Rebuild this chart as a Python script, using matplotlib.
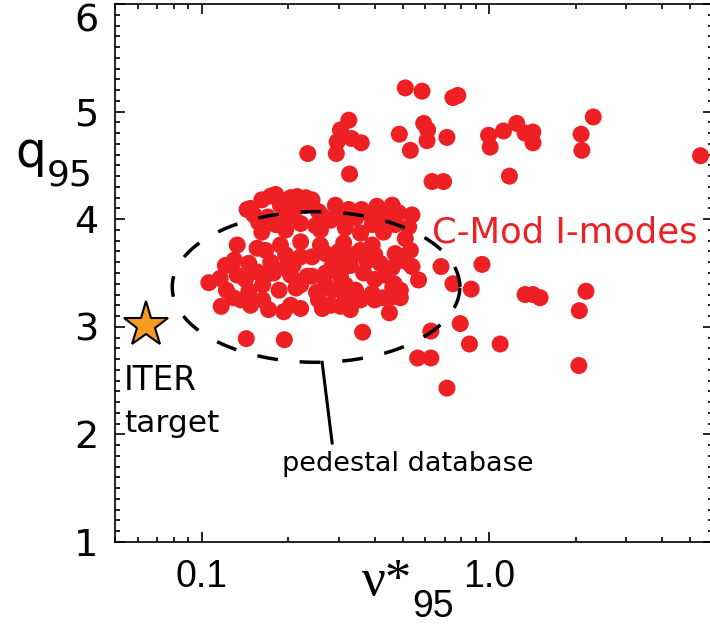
import numpy as np
import matplotlib
matplotlib.use('Agg')
import matplotlib.pyplot as plt
from matplotlib.ticker import FixedLocator, FixedFormatter, LogLocator, NullFormatter, MultipleLocator

# ---- data: C-Mod I-mode points (collisionality nu*_95, q95) ----
nu_star = [0.234, 0.294, 0.296, 0.304, 0.325, 0.332, 0.359, 0.327, 0.511, 0.584,
           0.748, 0.778, 0.487, 0.532, 0.592, 0.611, 0.608, 0.713, 0.633, 0.694,
           0.995, 1.008, 1.121, 1.247, 1.333, 1.418, 1.42, 1.176, 2.087, 2.10,
           2.30, 5.43, 0.539, 0.511, 0.504, 0.539, 0.68, 0.944, 0.748, 0.866,
           0.491, 0.491, 1.333, 1.42, 1.503, 2.17, 2.058, 0.793, 0.627, 0.854,
           1.092, 0.564, 0.627, 2.05, 0.713, 0.117, 0.129, 0.146, 0.171, 0.193,
           0.221, 0.263, 0.304, 0.329, 0.45, 0.143, 0.194, 0.363, 0.462, 0.462,
           0.106, 0.116, 0.133, 0.156, 0.178, 0.204, 0.233, 0.130, 0.133, 0.156,
           0.167, 0.196, 0.221, 0.146, 0.242, 0.270, 0.300, 0.338, 0.376, 0.418,
           0.471, 0.511, 0.242, 0.270, 0.304, 0.366, 0.400, 0.467, 0.148, 0.162,
           0.181, 0.215, 0.230, 0.152, 0.170, 0.162, 0.198, 0.221, 0.230, 0.255,
           0.281, 0.343, 0.357, 0.407, 0.435, 0.429, 0.484, 0.525, 0.144, 0.188,
           0.209, 0.263, 0.304, 0.249, 0.181, 0.316, 0.386, 0.188, 0.221, 0.259,
           0.312, 0.392, 0.174, 0.208, 0.285, 0.329, 0.46, 0.163, 0.186, 0.213,
           0.251, 0.285, 0.343, 0.392, 0.429, 0.163, 0.255, 0.316, 0.122, 0.137,
           0.158, 0.174, 0.204, 0.242, 0.292, 0.325, 0.360, 0.460, 0.471, 0.392,
           0.196, 0.259, 0.121, 0.142, 0.167, 0.196, 0.221, 0.270, 0.316, 0.357,
           0.400, 0.435, 0.357, 0.281, 0.204, 0.148, 0.532, 0.568, 0.400, 0.316]
q95 = [4.61, 4.61, 4.72, 4.83, 4.92, 4.75, 4.71, 4.42, 5.22, 5.19,
       5.13, 5.15, 4.79, 4.64, 4.89, 4.83, 4.73, 4.76, 4.35, 4.35,
       4.78, 4.67, 4.82, 4.89, 4.80, 4.81, 4.71, 4.40, 4.79, 4.64,
       4.95, 4.59, 4.04, 3.82, 3.62, 3.56, 3.56, 3.58, 3.40, 3.35,
       3.34, 3.27, 3.30, 3.30, 3.27, 3.33, 3.15, 3.03, 2.96, 2.84,
       2.84, 2.71, 2.71, 2.64, 2.43, 3.19, 3.27, 3.33, 3.16, 3.14,
       3.17, 3.17, 3.19, 3.16, 3.13, 2.89, 2.88, 2.95, 3.28, 3.37,
       3.41, 3.45, 3.48, 3.51, 3.50, 3.48, 3.47, 3.62, 3.76, 3.73,
       3.71, 3.67, 3.65, 3.59, 3.65, 3.68, 3.70, 3.67, 3.61, 3.59,
       3.68, 3.61, 3.47, 3.50, 3.47, 3.50, 3.44, 3.40, 4.10, 4.18,
       4.23, 4.21, 4.13, 4.04, 4.02, 3.88, 4.02, 3.96, 4.20, 4.07,
       3.99, 4.01, 3.87, 4.12, 4.01, 3.88, 4.06, 3.93, 4.09, 4.13,
       4.07, 4.03, 4.05, 3.94, 3.95, 3.92, 4.04, 3.76, 3.79, 3.76,
       3.78, 3.76, 3.60, 3.57, 3.57, 3.57, 3.55, 3.39, 3.34, 3.36,
       3.32, 3.34, 3.34, 3.31, 3.27, 3.25, 3.25, 3.27, 3.34, 3.25,
       3.97, 4.215, 4.20, 4.18, 4.13, 4.09, 4.09, 4.13, 3.95, 3.95,
       3.90, 3.90, 3.57, 3.44, 3.48, 3.55, 3.39, 3.39, 3.60, 3.71,
       3.67, 3.48, 3.25, 3.20, 3.20, 3.20, 3.71, 3.435, 3.25, 3.39]

# ITER target
iter_nu = [0.064]
iter_q = [3.02]

# pedestal database ellipse (log-x centre, half-width in decades)
ell_nu_center = 0.25
ell_q_center = 3.37
ell_half_decades = 0.50
ell_half_q = 0.70

# pointer line from ellipse to label
pointer_nu = [0.2625, 0.2844]
pointer_q = [2.67, 1.92]

xticks = [0.1, 1.0]
xticklabels = ['0.1', '1.0']
yticks = [1, 2, 3, 4, 5, 6]
yticklabels = ['1', '2', '3', '4', '5', '6']

red = '#EE2024'
orange = '#F59C1F'

W, H = 710, 628
fig = plt.figure(figsize=(W / 100, H / 100), dpi=100)
ax = fig.add_axes([115 / W, 1 - 542 / H, (713 - 115) / W, (542 - 4) / H])
ax.set_xscale('log')
ax.set_xlim(0.05, 6.0)
ax.set_ylim(1, 6)

ax.scatter(nu_star, q95, s=150, color=red, edgecolors='none', zorder=2)

t = np.linspace(0, 2 * np.pi, 600)
ex = 10 ** (np.log10(ell_nu_center) + ell_half_decades * np.cos(t))
ey = ell_q_center + ell_half_q * np.sin(t)
ax.plot(ex, ey, color='black', lw=2.5, ls=(0, (6, 6.3)), zorder=3)
ax.plot(pointer_nu, pointer_q, color='black', lw=2.2, zorder=3)

ax.plot(iter_nu, iter_q, marker='*', ms=34, mfc=orange, mec='black', mew=1.5,
        ls='none', zorder=4, clip_on=False)

# ticks
ax.xaxis.set_major_locator(FixedLocator(xticks))
ax.xaxis.set_major_formatter(FixedFormatter(xticklabels))
ax.xaxis.set_minor_locator(LogLocator(base=10, subs=np.arange(2, 10) * 1.0, numticks=30))
ax.xaxis.set_minor_formatter(NullFormatter())
ax.yaxis.set_major_locator(FixedLocator(yticks))
ax.yaxis.set_major_formatter(FixedFormatter(yticklabels))
ax.yaxis.set_minor_locator(MultipleLocator(0.1))

ax.tick_params(which='both', direction='in', top=True, right=True, width=1.2, color='black')
ax.tick_params(which='major', length=7.5, pad=12)
ax.tick_params(which='minor', length=3.8)
for lab in ax.get_xticklabels():
    lab.set_fontfamily('Liberation Sans')
    lab.set_fontsize(27)
for lab in ax.get_yticklabels():
    lab.set_fontfamily('DejaVu Sans')
    lab.set_fontsize(27.5)
for sp in ax.spines.values():
    sp.set_linewidth(1.2)

# annotations
ax.text(0.634, 3.788, 'C-Mod I-modes', color=red, fontsize=25.5,
        family='DejaVu Sans', ha='left', va='baseline', zorder=5)
ax.text(0.0536, 2.412, 'ITER', color='black', fontsize=23.5,
        family='DejaVu Sans', ha='left', va='baseline')
ax.text(0.0536, 2.022, 'target', color='black', fontsize=22.5,
        family='DejaVu Sans', ha='left', va='baseline')
ax.text(0.191, 1.66, 'pedestal database', color='black', fontsize=19.5,
        family='DejaVu Sans', ha='left', va='baseline')

# axis labels
fig.text(15 / W, 1 - 167 / H, 'q', fontsize=35, family='DejaVu Sans', va='baseline', ha='left')
fig.text(47 / W, 1 - 185 / H, '95', fontsize=26, family='DejaVu Sans', va='baseline', ha='left')
fig.text(362 / W, 1 - 595 / H, 'ν*', fontsize=38, family='Liberation Serif', va='baseline', ha='left')
fig.text(412 / W, 1 - 617 / H, '95', fontsize=27, family='Liberation Sans', va='baseline', ha='left')

fig.canvas.draw()
ylabs = ax.get_yticklabels()
ylabs[-1].set_va('top')

fig.savefig('out.png', dpi=100)
